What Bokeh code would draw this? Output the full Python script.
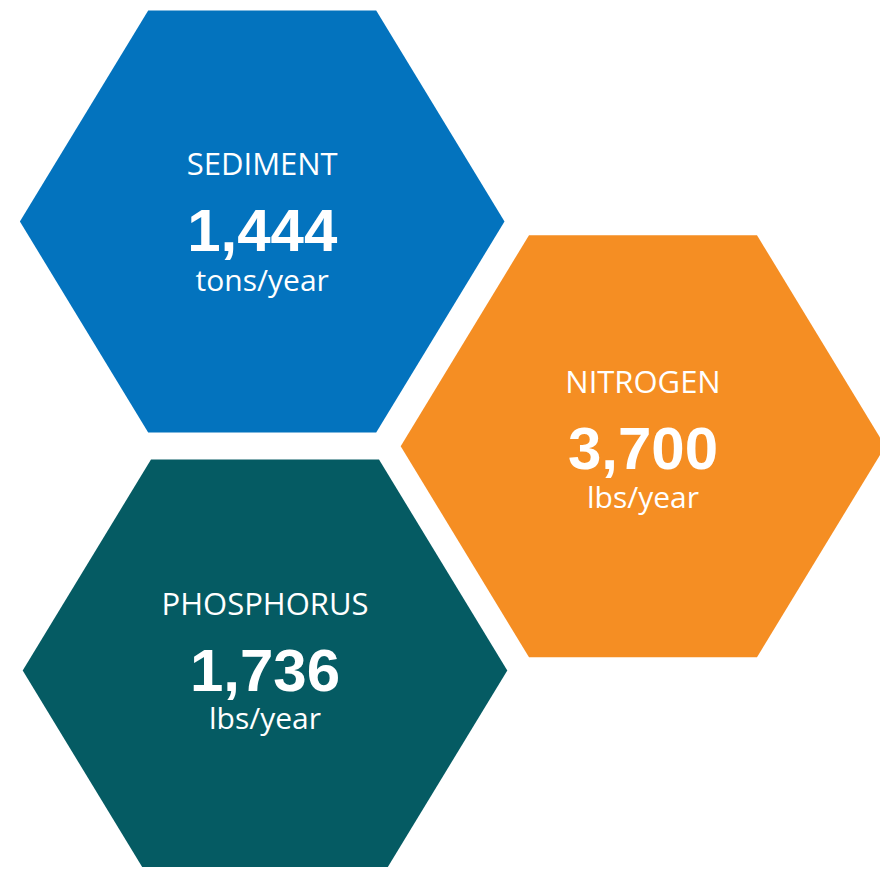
from bokeh.plotting import figure
from bokeh.models import Range1d, ColumnDataSource
from bokeh.core.properties import value
from bokeh.embed import file_html
from bokeh.resources import INLINE

# ---- data ----
labels = ["SEDIMENT", "NITROGEN", "PHOSPHORUS"]
amounts = ["1,444", "3,700", "1,736"]
units = ["tons/year", "lbs/year", "lbs/year"]
colors = ["#0373BE", "#F58E23", "#055B63"]

# ---- layout (screen-pixel coordinates) ----
hex_cx = [261.7, 642.5, 264.5]
hex_cy = [221.0, 445.7, 670.0]
label_y = [175.5, 393.3, 615.0]
amount_y = [252.3, 470.0, 691.7]
unit_y = [289.5, 507.3, 728.3]
HALF_W, HALF_H, HALF_TOP = 242.3, 211.0, 114.0
LABEL_SHIFT, AMOUNT_SHIFT, UNIT_SHIFT = -13, -22, -11

W, H = 880, 867
p = figure(width=W, height=H, output_backend="svg", toolbar_location=None,
           x_range=Range1d(0, W), y_range=Range1d(H, 0),
           x_axis_location=None, y_axis_location=None,
           min_border=0, outline_line_color=None, background_fill_color="white",
           border_fill_color="white")
p.grid.visible = False

xs, ys = [], []
for cx, cy in zip(hex_cx, hex_cy):
    xs.append([cx - HALF_TOP, cx + HALF_TOP, cx + HALF_W, cx + HALF_TOP, cx - HALF_TOP, cx - HALF_W])
    ys.append([cy - HALF_H, cy - HALF_H, cy, cy + HALF_H, cy + HALF_H, cy])
p.patches(xs=xs, ys=ys, fill_color=colors, line_color=None)

src = ColumnDataSource(dict(x=hex_cx,
                            ly=[v + LABEL_SHIFT for v in label_y],
                            ay=[v + AMOUNT_SHIFT for v in amount_y],
                            uy=[v + UNIT_SHIFT for v in unit_y],
                            label=labels, amount=amounts, unit=units))
p.text(x="x", y="ly", text="label", source=src, text_align="center",
       text_baseline="alphabetic", text_color="white",
       text_font=value("Open Sans"), text_font_size="31px")
p.text(x="x", y="ay", text="amount", source=src, text_align="center",
       text_baseline="alphabetic", text_color="white",
       text_font=value("Liberation Sans"),
       text_font_style="bold", text_font_size="60px")
p.text(x="x", y="uy", text="unit", source=src, text_align="center",
       text_baseline="alphabetic", text_color="white",
       text_font=value("Open Sans"), text_font_size="30px")

open("out.html", "w").write(file_html(p, INLINE))
